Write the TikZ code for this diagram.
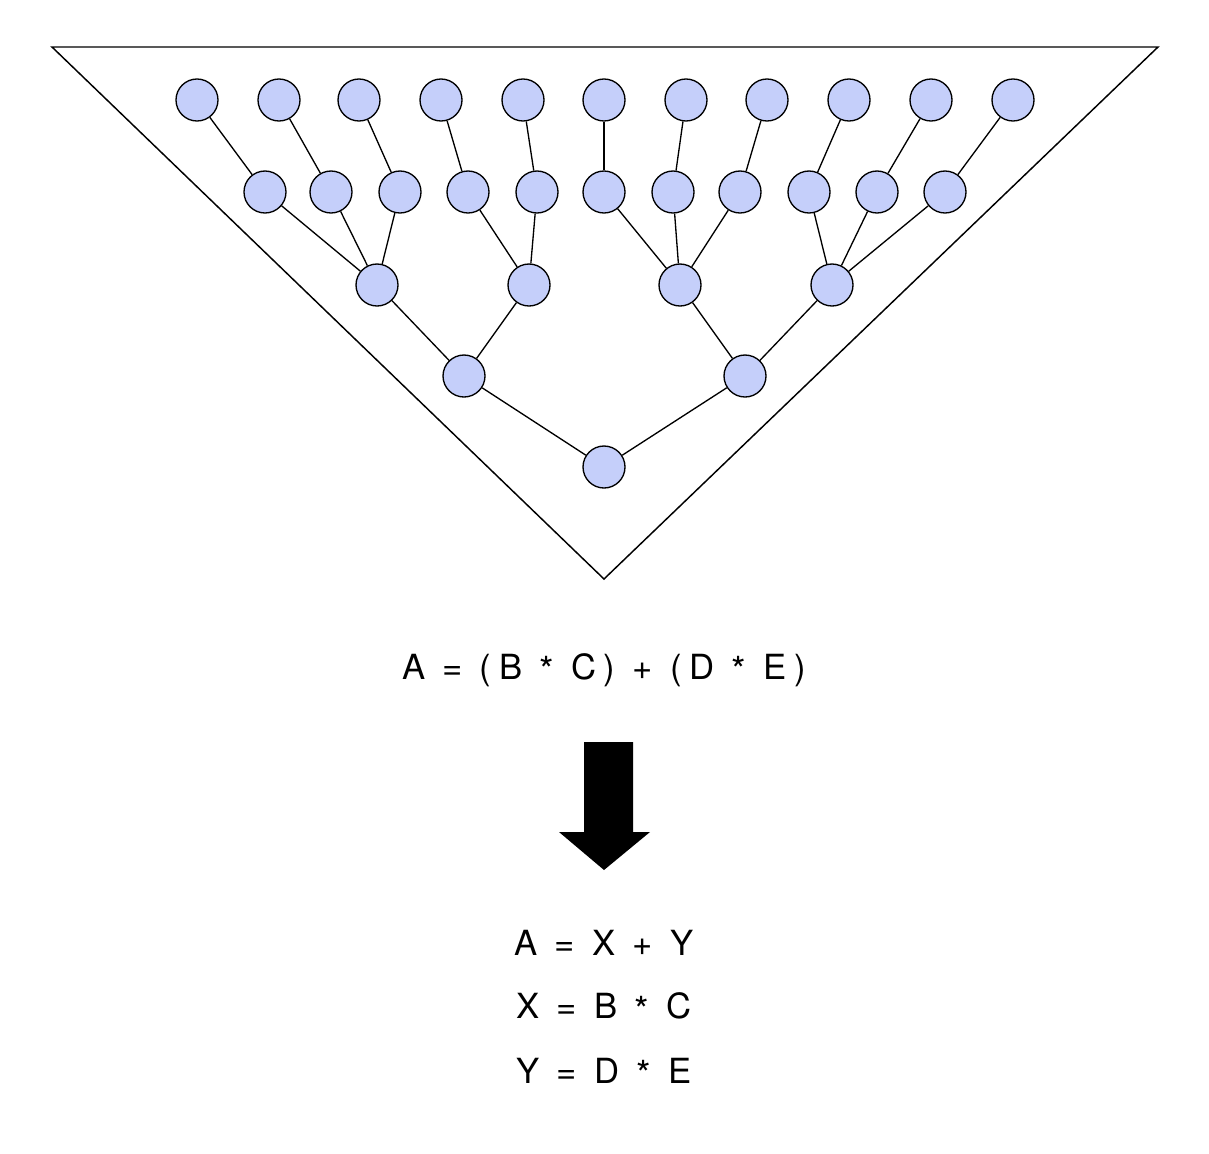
\documentclass[tikz,border=0pt]{standalone}
\usepackage{fontspec}
\setmainfont{TeX Gyre Heros}
\definecolor{nodeblue}{HTML}{C5CFFA}
\begin{document}
\begin{tikzpicture}[x=0.75pt,y=-0.75pt,
  nd/.style={circle,draw=black,fill=nodeblue,line width=1pt,minimum size=31.5pt,inner sep=0pt},
  ed/.style={line width=1pt},
  eq/.style={font=\fontsize{26}{30}\selectfont\addfontfeature{LetterSpace=22},inner sep=0pt}]
\useasboundingbox (0,0) rectangle (1209,1153);
\draw[line width=1.1pt] (52,47) -- (1158,47) -- (604,579) -- cycle;
\foreach \x [count=\i] in {197,279,359,441,523,604,686,767,849,931,1013}
  \node[nd] (a\i) at (\x,100) {};
\foreach \x [count=\i] in {265,331,400,468,537,604,673,740,809,877,945}
  \node[nd] (b\i) at (\x,192) {};
\foreach \x [count=\i] in {377,529,680,832}
  \node[nd] (c\i) at (\x,285) {};
\node[nd] (d1) at (464,376) {};
\node[nd] (d2) at (745,376) {};
\node[nd] (e1) at (604,467) {};
\foreach \i in {1,...,11} \draw[ed] (a\i) -- (b\i);
\foreach \i/\j in {1/1,2/1,3/1,4/2,5/2,6/3,7/3,8/3,9/4,10/4,11/4} \draw[ed] (b\i) -- (c\j);
\draw[ed] (c1) -- (d1); \draw[ed] (c2) -- (d1);
\draw[ed] (c3) -- (d2); \draw[ed] (c4) -- (d2);
\draw[ed] (d1) -- (e1); \draw[ed] (d2) -- (e1);
\newcommand{\myast}{\raisebox{-0.12em}{\fontsize{28}{28}\selectfont *}}
\node[eq] (t1) at (604,670) {A = (B \myast{} C) + (D \myast{} E)};
\fill (584,742) -- (633,742) -- (633,832) -- (650,832) -- (604,870) -- (559,832) -- (584,832) -- cycle;
\node[eq] (t2) at (604,943) {A = X + Y};
\node[eq] (t3) at (604,1008) {X = B \myast{} C};
\node[eq] (t4) at (604,1073) {Y = D \myast{} E};
\end{tikzpicture}
\end{document}
